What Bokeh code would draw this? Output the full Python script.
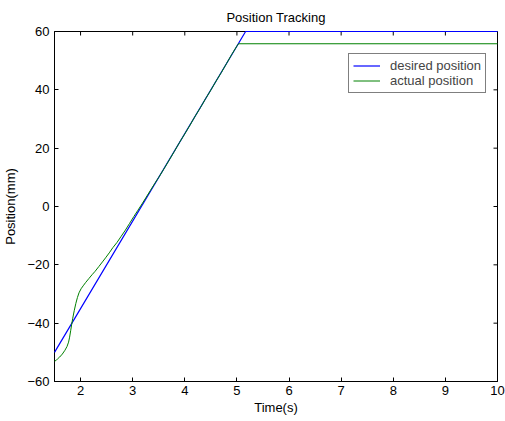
import math
from bokeh.plotting import figure
from bokeh.models import FixedTicker, Legend, LegendItem
from bokeh.embed import file_html
from bokeh.resources import INLINE

# Desired trajectory: ramp from -50 mm to 60 mm, then hold
desired_t = [1.5, 5.1667, 10.0]
desired_pos = [-50.0, 60.0, 60.0]

# Measured trajectory
actual_t = [1.50, 1.53, 1.56, 1.60, 1.65, 1.70, 1.74, 1.77, 1.79, 1.81, 1.83, 1.85,
            1.88, 1.91, 1.94, 1.97, 2.01, 2.05, 2.10, 2.16, 2.22, 2.28, 2.35, 2.42,
            2.48, 2.55, 2.62, 2.70, 2.78, 2.86, 2.94, 3.02, 3.10, 3.18, 3.26, 3.34,
            3.42, 3.50, 3.60, 3.70, 3.80, 3.90, 4.00, 4.10, 4.20, 4.30, 4.40, 4.50,
            4.60, 4.70, 4.80, 4.90, 5.00, 5.03, 10.0]
actual_pos = [-53.0, -52.8, -52.2, -51.6, -50.6, -49.3, -48.0, -46.5, -44.8, -42.6, -40.4, -38.3,
              -35.6, -33.2, -31.2, -29.6, -28.2, -27.2, -26.0, -24.7, -23.4, -22.2, -20.6, -19.0,
              -17.6, -15.9, -14.1, -12.3, -10.2, -8.1, -5.8, -3.5, -1.3, 0.9, 3.2, 5.5,
              7.8, 10.0, 12.9, 15.9, 18.9, 22.0, 24.9, 27.9, 31.0, 33.9, 37.0, 39.9,
              43.0, 45.9, 49.0, 52.1, 55.0, 55.8, 55.8]

x_ticks = [2, 3, 4, 5, 6, 7, 8, 9, 10]
y_ticks = [-60, -40, -20, 0, 20, 40, 60]
x_lo, x_hi = 1.5, 10
y_lo, y_hi = -60, 60

FONT = "Liberation Sans"

p = figure(width=505, height=421, x_range=(x_lo, x_hi), y_range=(y_lo, y_hi),
           output_backend="svg", toolbar_location=None,
           title="Position Tracking",
           min_border_left=51, min_border_right=8,
           min_border_top=30, min_border_bottom=40)

p.background_fill_color = "white"
p.border_fill_color = "white"
p.outline_line_color = "black"
p.outline_line_width = 1
p.grid.visible = False

p.title.align = "center"
p.title.text_font = FONT
p.title.text_font_size = "13px"
p.title.text_font_style = "normal"
p.title.text_color = "black"
p.title.standoff = 14

p.xaxis.axis_label = "Time(s)"
p.yaxis.axis_label = "Position(mm)"
p.xaxis.ticker = FixedTicker(ticks=x_ticks)
p.yaxis.ticker = FixedTicker(ticks=y_ticks)

for ax in p.axis:
    ax.axis_line_color = "black"
    ax.major_tick_line_color = "black"
    ax.major_tick_in = 4
    ax.major_tick_out = 0
    ax.minor_tick_line_color = None
    ax.major_label_text_font = FONT
    ax.major_label_text_font_size = "13px"
    ax.major_label_text_color = "black"
    ax.axis_label_text_font = FONT
    ax.axis_label_text_font_style = "normal"
    ax.axis_label_text_font_size = "13px"
    ax.axis_label_text_color = "black"

p.xaxis.major_label_standoff = 4
p.xaxis.axis_label_standoff = 2
p.yaxis.major_label_standoff = 5
p.yaxis.axis_label_standoff = 6

# Inward ticks along the top and right edges of the box
p.ray(x=x_ticks, y=[y_hi] * len(x_ticks), length=4, length_units="screen",
      angle=-math.pi / 2, line_color="black", line_width=1)
p.ray(x=[x_hi] * len(y_ticks), y=y_ticks, length=4, length_units="screen",
      angle=math.pi, line_color="black", line_width=1)

r_des = p.line(desired_t, desired_pos, line_color="#0000ff", line_width=1.2, level="overlay")
r_act = p.line(actual_t, actual_pos, line_color="#008000", line_width=1, level="overlay")

legend = Legend(items=[LegendItem(label="desired position", renderers=[r_des]),
                       LegendItem(label="actual position", renderers=[r_act])],
                location=(294, 288), padding=4, spacing=0, margin=0,
                glyph_width=27, glyph_height=15, label_height=15, label_standoff=10,
                label_text_font=FONT, label_text_font_size="13px",
                border_line_color="black", border_line_width=1,
                background_fill_color="white", background_fill_alpha=1)
p.add_layout(legend)

open("out.html", "w").write(file_html(p, INLINE))
